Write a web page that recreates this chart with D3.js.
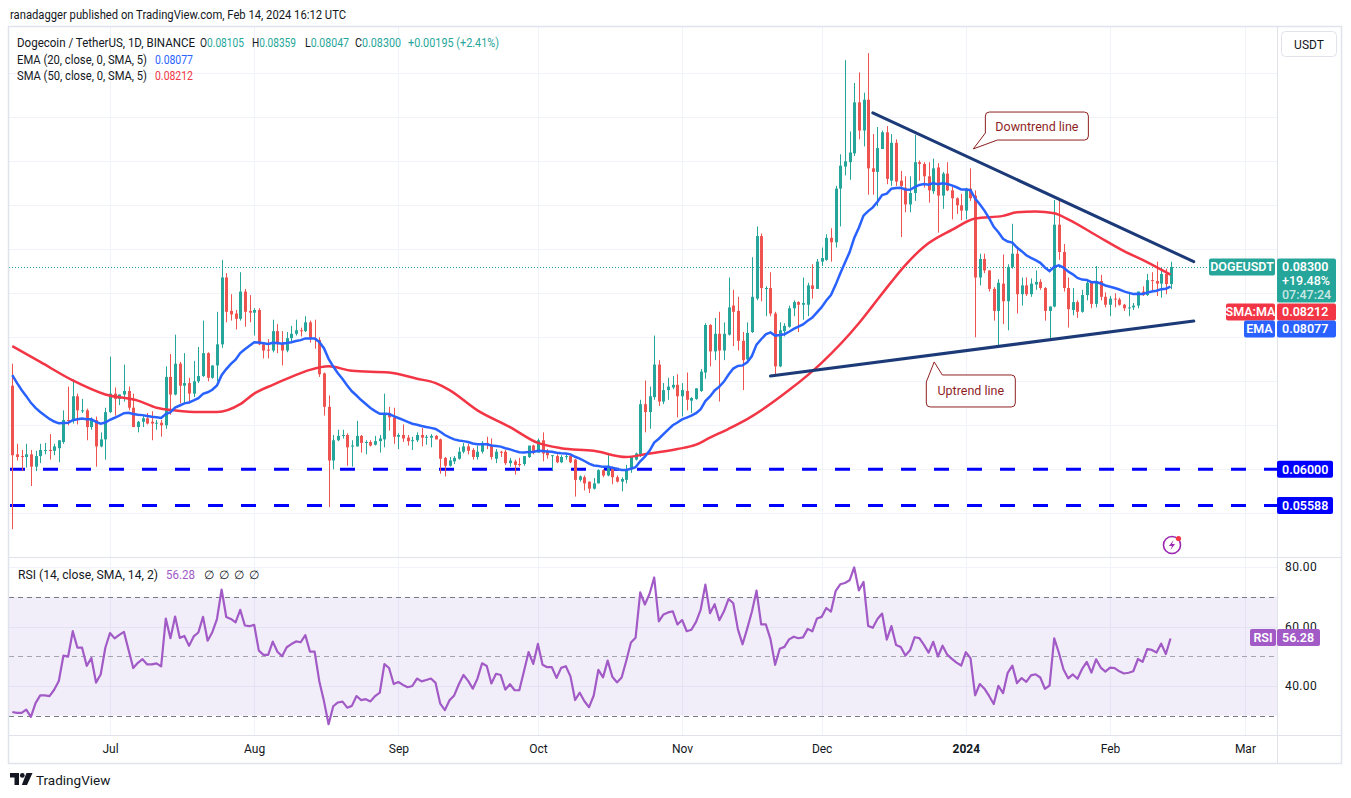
<!DOCTYPE html>
<html>
<head>
<meta charset="utf-8">
<script src="https://cdn.jsdelivr.net/npm/d3@7"></script>
<style>
  body { margin: 0; background: #ffffff; }
  svg text { font-family: Roboto, "Noto Sans", sans-serif; }
</style>
</head>
<body>
<svg id="chart" width="1351" height="798"></svg>
<script>
// ---- data (DOGE/USDT daily, 2023-06-10 .. 2024-02-14) ----
var firstDay = new Date(Date.UTC(2023, 5, 10));

var open = [
0.0695,0.0617,0.0615,0.0614,0.0617,0.0603,0.0615,0.0621,0.0622,0.0621,
0.0624,0.0631,0.0656,0.0655,0.0683,0.0666,0.0667,0.0648,0.0656,0.0626,
0.0634,0.0665,0.0686,0.0680,0.0685,0.0689,0.0670,0.0648,0.0654,0.0658,
0.0654,0.0652,0.0653,0.0650,0.0705,0.0685,0.0720,0.0695,0.0698,0.0686,
0.0700,0.0706,0.0732,0.0704,0.0718,0.0742,0.0818,0.0780,0.0777,0.0771,
0.0802,0.0780,0.0778,0.0781,0.0742,0.0736,0.0735,0.0757,0.0742,0.0735,
0.0749,0.0754,0.0758,0.0757,0.0767,0.0749,0.0747,0.0709,0.0671,0.0610,
0.0633,0.0638,0.0639,0.0626,0.0626,0.0638,0.0630,0.0631,0.0628,0.0632,
0.0634,0.0664,0.0659,0.0637,0.0639,0.0636,0.0632,0.0633,0.0639,0.0636,
0.0636,0.0638,0.0634,0.0613,0.0604,0.0609,0.0612,0.0620,0.0626,0.0622,
0.0614,0.0620,0.0630,0.0628,0.0612,0.0620,0.0620,0.0607,0.0609,0.0606,
0.0606,0.0614,0.0627,0.0619,0.0633,0.0621,0.0615,0.0615,0.0608,0.0614,
0.0615,0.0611,0.0588,0.0591,0.0586,0.0578,0.0584,0.0599,0.0593,0.0601,
0.0591,0.0586,0.0588,0.0600,0.0611,0.0615,0.0674,0.0665,0.0682,0.0719,
0.0677,0.0690,0.0693,0.0696,0.0683,0.0689,0.0678,0.0680,0.0689,0.0710,
0.0764,0.0734,0.0754,0.0735,0.0753,0.0786,0.0780,0.0746,0.0725,0.0756,
0.0794,0.0865,0.0805,0.0806,0.0777,0.0717,0.0757,0.0762,0.0783,0.0790,
0.0787,0.0787,0.0809,0.0805,0.0836,0.0838,0.0863,0.0858,0.0919,0.0944,
0.0949,0.0959,0.1017,0.0985,0.1020,0.0942,0.0938,0.0964,0.0983,0.0928,
0.0971,0.0928,0.0920,0.0901,0.0914,0.0949,0.0947,0.0933,0.0916,0.0943,
0.0911,0.0936,0.0917,0.0908,0.0900,0.0894,0.0919,0.0911,0.0818,0.0839,
0.0826,0.0805,0.0780,0.0811,0.0791,0.0830,0.0845,0.0799,0.0809,0.0799,
0.0810,0.0813,0.0806,0.0780,0.0785,0.0878,0.0847,0.0806,0.0781,0.0790,
0.0779,0.0798,0.0812,0.0788,0.0814,0.0796,0.0787,0.0794,0.0793,0.0787,
0.0783,0.0784,0.0786,0.0802,0.0798,0.0815,0.0814,0.0811,0.0822,0.08105
];

var high = [
0.0720,0.0629,0.0622,0.0629,0.0622,0.0621,0.0629,0.0630,0.0640,0.0629,
0.0633,0.0667,0.0694,0.0702,0.0686,0.0680,0.0669,0.0659,0.0660,0.0642,
0.0670,0.0728,0.0693,0.0685,0.0719,0.0694,0.0686,0.0655,0.0661,0.0664,
0.0666,0.0656,0.0656,0.0717,0.0731,0.0753,0.0722,0.0732,0.0704,0.0723,
0.0739,0.0769,0.0733,0.0718,0.0779,0.0838,0.0823,0.0799,0.0781,0.0824,
0.0805,0.0798,0.0783,0.0783,0.0743,0.0748,0.0770,0.0765,0.0757,0.0756,
0.0763,0.0770,0.0761,0.0774,0.0769,0.0770,0.0750,0.0710,0.0684,0.0639,
0.0645,0.0645,0.0641,0.0633,0.0655,0.0639,0.0633,0.0633,0.0638,0.0639,
0.0686,0.0671,0.0670,0.0641,0.0651,0.0639,0.0637,0.0642,0.0647,0.0639,
0.0640,0.0639,0.0635,0.0614,0.0614,0.0615,0.0625,0.0630,0.0629,0.0624,
0.0627,0.0632,0.0637,0.0635,0.0623,0.0621,0.0622,0.0613,0.0611,0.0613,
0.0615,0.0626,0.0628,0.0635,0.0642,0.0623,0.0616,0.0617,0.0616,0.0617,
0.0617,0.0612,0.0593,0.0593,0.0586,0.0590,0.0600,0.0600,0.0618,0.0603,
0.0593,0.0591,0.0605,0.0615,0.0619,0.0679,0.0701,0.0694,0.0752,0.0724,
0.0698,0.0704,0.0706,0.0708,0.0698,0.0710,0.0682,0.0692,0.0714,0.0766,
0.0765,0.0772,0.0779,0.0767,0.0818,0.0804,0.0796,0.0756,0.0767,0.0841,
0.0876,0.0868,0.0808,0.0824,0.0779,0.0767,0.0766,0.0786,0.0792,0.0791,
0.0818,0.0812,0.0833,0.0839,0.0852,0.0867,0.0874,0.0922,0.0958,0.1065,
0.0984,0.1039,0.1051,0.1028,0.1073,0.0981,0.0989,0.0985,0.0990,0.0981,
0.0975,0.0939,0.0933,0.0933,0.0980,0.0951,0.0949,0.0949,0.0953,0.0948,
0.0938,0.0949,0.0921,0.0909,0.0913,0.0920,0.0942,0.0917,0.0845,0.0845,
0.0826,0.0807,0.0816,0.0844,0.0833,0.0879,0.0853,0.0818,0.0818,0.0817,
0.0826,0.0816,0.0807,0.0785,0.0906,0.0905,0.0856,0.0818,0.0806,0.0792,
0.0804,0.0814,0.0814,0.0831,0.0821,0.0801,0.0797,0.0800,0.0795,0.0788,
0.0802,0.0789,0.0802,0.0808,0.0822,0.0824,0.0836,0.0829,0.0828,0.08359
];

var low = [
0.0532,0.0610,0.0598,0.0602,0.0581,0.0598,0.0607,0.0617,0.0611,0.0616,
0.0608,0.0629,0.0650,0.0652,0.0651,0.0664,0.0633,0.0645,0.0603,0.0625,
0.0611,0.0664,0.0661,0.0673,0.0677,0.0667,0.0648,0.0642,0.0648,0.0651,
0.0633,0.0645,0.0637,0.0646,0.0662,0.0684,0.0675,0.0675,0.0675,0.0682,
0.0698,0.0705,0.0700,0.0703,0.0700,0.0738,0.0767,0.0769,0.0759,0.0769,
0.0762,0.0767,0.0752,0.0741,0.0726,0.0726,0.0733,0.0732,0.0718,0.0733,
0.0745,0.0752,0.0751,0.0756,0.0744,0.0737,0.0705,0.0661,0.0557,0.0600,
0.0632,0.0635,0.0604,0.0603,0.0626,0.0619,0.0617,0.0626,0.0627,0.0619,
0.0625,0.0644,0.0629,0.0623,0.0631,0.0627,0.0622,0.0631,0.0626,0.0628,
0.0625,0.0634,0.0595,0.0592,0.0603,0.0606,0.0611,0.0618,0.0617,0.0611,
0.0611,0.0618,0.0623,0.0611,0.0607,0.0614,0.0605,0.0603,0.0594,0.0603,
0.0604,0.0613,0.0617,0.0619,0.0609,0.0612,0.0599,0.0607,0.0607,0.0611,
0.0607,0.0569,0.0586,0.0576,0.0573,0.0577,0.0584,0.0591,0.0592,0.0583,
0.0585,0.0575,0.0584,0.0596,0.0610,0.0614,0.0642,0.0646,0.0679,0.0672,
0.0674,0.0679,0.0691,0.0659,0.0660,0.0667,0.0664,0.0679,0.0688,0.0703,
0.0717,0.0724,0.0677,0.0724,0.0752,0.0740,0.0735,0.0690,0.0723,0.0755,
0.0792,0.0791,0.0774,0.0774,0.0707,0.0716,0.0751,0.0761,0.0774,0.0756,
0.0770,0.0774,0.0794,0.0805,0.0831,0.0837,0.0836,0.0852,0.0876,0.0934,
0.0929,0.0956,0.0975,0.0967,0.0912,0.0912,0.0899,0.0964,0.0924,0.0922,
0.0922,0.0864,0.0892,0.0892,0.0905,0.0928,0.0920,0.0903,0.0913,0.0869,
0.0896,0.0916,0.0884,0.0890,0.0883,0.0884,0.0905,0.0750,0.0809,0.0823,
0.0802,0.0769,0.0741,0.0765,0.0758,0.0828,0.0777,0.0786,0.0797,0.0796,
0.0804,0.0804,0.0769,0.0749,0.0784,0.0838,0.0802,0.0761,0.0775,0.0772,
0.0778,0.0792,0.0783,0.0784,0.0792,0.0784,0.0774,0.0784,0.0786,0.0780,
0.0774,0.0781,0.0783,0.0797,0.0797,0.0802,0.0797,0.0795,0.0799,0.08047
];

var close = [
0.0616,0.0614,0.0614,0.0617,0.0603,0.0615,0.0622,0.0622,0.0621,0.0626,
0.0633,0.0656,0.0655,0.0683,0.0667,0.0667,0.0648,0.0656,0.0626,0.0634,
0.0665,0.0686,0.0680,0.0685,0.0689,0.0670,0.0648,0.0654,0.0658,0.0652,
0.0652,0.0653,0.0650,0.0705,0.0685,0.0720,0.0695,0.0698,0.0686,0.0700,
0.0706,0.0732,0.0704,0.0718,0.0742,0.0818,0.0779,0.0776,0.0771,0.0802,
0.0779,0.0778,0.0781,0.0742,0.0735,0.0735,0.0757,0.0742,0.0735,0.0749,
0.0754,0.0758,0.0757,0.0767,0.0748,0.0748,0.0708,0.0671,0.0610,0.0633,
0.0638,0.0639,0.0625,0.0627,0.0638,0.0630,0.0631,0.0627,0.0632,0.0635,
0.0664,0.0659,0.0637,0.0639,0.0635,0.0632,0.0633,0.0639,0.0636,0.0637,
0.0638,0.0634,0.0612,0.0604,0.0610,0.0613,0.0620,0.0626,0.0621,0.0614,
0.0620,0.0630,0.0628,0.0614,0.0620,0.0619,0.0607,0.0610,0.0605,0.0605,
0.0615,0.0627,0.0619,0.0633,0.0618,0.0616,0.0616,0.0608,0.0614,0.0615,
0.0608,0.0588,0.0592,0.0584,0.0578,0.0584,0.0599,0.0593,0.0604,0.0591,
0.0586,0.0589,0.0600,0.0614,0.0618,0.0674,0.0665,0.0683,0.0719,0.0677,
0.0690,0.0694,0.0696,0.0683,0.0690,0.0679,0.0681,0.0692,0.0711,0.0764,
0.0734,0.0754,0.0735,0.0754,0.0784,0.0779,0.0746,0.0724,0.0755,0.0796,
0.0865,0.0806,0.0806,0.0777,0.0717,0.0758,0.0763,0.0783,0.0790,0.0787,
0.0789,0.0809,0.0805,0.0836,0.0840,0.0863,0.0858,0.0919,0.0945,0.0950,
0.0960,0.1017,0.0985,0.1020,0.0942,0.0938,0.0965,0.0983,0.0930,0.0971,
0.0927,0.0922,0.0901,0.0914,0.0949,0.0947,0.0933,0.0917,0.0942,0.0911,
0.0936,0.0917,0.0908,0.0900,0.0894,0.0919,0.0908,0.0818,0.0839,0.0826,
0.0805,0.0780,0.0812,0.0791,0.0830,0.0845,0.0799,0.0809,0.0799,0.0811,
0.0813,0.0806,0.0780,0.0785,0.0878,0.0847,0.0806,0.0782,0.0790,0.0779,
0.0798,0.0812,0.0788,0.0814,0.0796,0.0787,0.0794,0.0793,0.0787,0.0783,
0.0784,0.0786,0.0802,0.0798,0.0815,0.0814,0.0811,0.0822,0.08105,0.0830
];

// SMA(50) (day index, value)
var smaIdx = [0,6,13,20,27,31,35,40,44,49,52,56,60,64,68,73,81,87,91,94,100,107,113,118,125,
              132,136,143,147,150,154,158,167,174,182,185,189,192,196,202,207,213,216,220,224,
              227,233,239,243,247,249];
var smaVal = [0.0740,0.0722,0.0701,0.0685,0.0678,0.0670,0.0667,0.0665,0.0665,0.0674,0.0686,
              0.0696,0.0705,0.0713,0.0717,0.0712,0.0710,0.0703,0.0698,0.0690,0.0667,0.0648,
              0.0630,0.0624,0.0621,0.0614,0.0617,0.0623,0.0628,0.0636,0.0646,0.0657,0.0690,
              0.0721,0.0766,0.0786,0.0813,0.0832,0.0853,0.0872,0.0885,0.0888,0.0892,0.0893,
              0.0891,0.0884,0.0866,0.0848,0.0838,0.0827,0.08212];

// EMA(20) value on the first bar, RSI averages on the first bar
var emaStart = 0.0707;
var rsiGainStart = 0.00050, rsiLossStart = 0.00110;

var priceTicks = [0.050,0.055,0.060,0.065,0.070,0.075,0.080,0.085,0.090,0.095,0.100,0.105];
var hiddenTicks = [0.060, 0.080];   // covered by price tags on the axis
var rsiTicks = [40, 60, 80];
var monthTicks = [[2023,6,"Jul"],[2023,7,"Aug"],[2023,8,"Sep"],[2023,9,"Oct"],[2023,10,"Nov"],
                  [2023,11,"Dec"],[2024,0,"2024"],[2024,1,"Feb"],[2024,2,"Mar"]];
var supportLevels = [0.06000, 0.05588];

// trend lines: [day index, price]
var downTrend = [[185, 0.1005], [254, 0.0836]];
var upTrend = [[163, 0.0706], [254, 0.07685]];

// callouts: box anchor [day index, price], tail tip [day index, price]
var callouts = [
  {text: "Downtrend line", box: [209.2, 0.1006], w: 103, h: 28, tip: [206.6, 0.09641], side: "bottom"},
  {text: "Uptrend line",   box: [196.5, 0.07072], w: 89, h: 32, tip: [198.2, 0.07220], side: "top"}
];

// ---- derived series ----
var days = close.map(function(c, i) { return d3.utcDay.offset(firstDay, i); });

var ema = [];
close.forEach(function(c, i) {
  ema.push(i === 0 ? emaStart : ema[i-1] + (c - ema[i-1]) * 2 / 21);
});

var ag = rsiGainStart, al = rsiLossStart;
var rsi = close.map(function(c, i) {
  if (i > 0) {
    var ch = c - close[i-1];
    ag = (ag * 13 + Math.max(ch, 0)) / 14;
    al = (al * 13 + Math.max(-ch, 0)) / 14;
  }
  return 100 - 100 / (1 + ag / al);
});

// ---- layout ----
var paneL = 9, paneR = 1277, frameR = 1341;
var priceTop = 27, priceBot = 557, rsiBot = 735, frameB = 763;

var green = "#26a69a", red = "#ef5350", blue = "#2962ff", smaRed = "#f23645", purple = "#a15ac6";
var textCol = "#131722", gridCol = "#f0f3fa", sepCol = "#e0e3eb";

var x = d3.scaleUtc().domain([firstDay, days[days.length-1]]).range([12.3, 1170.5]);
var y = d3.scaleLinear().domain([0.05, 0.11015]).range([557.3, 28]);
var yr = d3.scaleLinear().domain([30, 70]).range([715.75, 596.75]);
var xAt = function(k) { return x(new Date(firstDay.getTime() + k * 86400000)); };

var svg = d3.select("#chart");

var defs = svg.append("defs");
defs.append("clipPath").attr("id", "clipPrice").append("rect")
  .attr("x", paneL).attr("y", priceTop).attr("width", paneR - paneL).attr("height", priceBot - priceTop);
defs.append("clipPath").attr("id", "clipRsi").append("rect")
  .attr("x", paneL).attr("y", priceBot).attr("width", paneR - paneL).attr("height", rsiBot - priceBot);
defs.append("clipPath").attr("id", "clipAxis").append("rect")
  .attr("x", paneR).attr("y", priceTop).attr("width", frameR - paneR).attr("height", priceBot - priceTop);

// attribution
svg.append("text").attr("x", 10).attr("y", 19).attr("font-size", "12px").attr("fill", textCol)
  .attr("textLength", 336).attr("lengthAdjust", "spacingAndGlyphs")
  .text("ranadagger published on TradingView.com, Feb 14, 2024 16:12 UTC");

// ---- grid ----
var grid = svg.append("g");
grid.selectAll(".hgrid").data(priceTicks).enter().append("line")
  .attr("x1", paneL).attr("x2", paneR)
  .attr("y1", function(d) { return Math.round(y(d)) + 0.5; })
  .attr("y2", function(d) { return Math.round(y(d)) + 0.5; })
  .attr("stroke", gridCol).attr("clip-path", "url(#clipPrice)");
grid.selectAll(".rgrid").data(rsiTicks).enter().append("line")
  .attr("x1", paneL).attr("x2", paneR)
  .attr("y1", function(d) { return Math.round(yr(d)) + 0.5; })
  .attr("y2", function(d) { return Math.round(yr(d)) + 0.5; })
  .attr("stroke", gridCol);
grid.selectAll(".vgrid").data(monthTicks).enter().append("line")
  .attr("x1", function(d) { return Math.round(x(new Date(Date.UTC(d[0], d[1], 1)))) + 0.5; })
  .attr("x2", function(d) { return Math.round(x(new Date(Date.UTC(d[0], d[1], 1)))) + 0.5; })
  .attr("y1", priceTop).attr("y2", rsiBot)
  .attr("stroke", gridCol);

// ---- price pane ----
var pane = svg.append("g").attr("clip-path", "url(#clipPrice)");

// support levels
pane.selectAll(".support").data(supportLevels).enter().append("line")
  .attr("x1", 10).attr("x2", paneR)
  .attr("y1", function(d) { return y(d); }).attr("y2", function(d) { return y(d); })
  .attr("stroke", "#0000ff").attr("stroke-width", 3).attr("stroke-dasharray", "15,18");

// last price dotted line
pane.append("line").attr("x1", paneL).attr("x2", 1209)
  .attr("y1", Math.round(y(close[close.length-1])) + 0.5).attr("y2", Math.round(y(close[close.length-1])) + 0.5)
  .attr("stroke", green).attr("stroke-width", 1).attr("stroke-dasharray", "1,2");

// candles
var candle = pane.append("g").selectAll("g").data(close).enter().append("g");
candle.append("line")
  .attr("x1", function(d, i) { return Math.round(x(days[i])) + 0.5; })
  .attr("x2", function(d, i) { return Math.round(x(days[i])) + 0.5; })
  .attr("y1", function(d, i) { return y(high[i]); })
  .attr("y2", function(d, i) { return y(low[i]); })
  .attr("stroke", function(d, i) { return close[i] >= open[i] ? green : red; })
  .attr("stroke-width", 1);
candle.append("rect")
  .attr("x", function(d, i) { return Math.round(x(days[i])) - 1; })
  .attr("width", 3)
  .attr("y", function(d, i) { return y(Math.max(open[i], close[i])); })
  .attr("height", function(d, i) { return Math.max(1, Math.abs(y(open[i]) - y(close[i]))); })
  .attr("fill", function(d, i) { return close[i] >= open[i] ? green : red; });

// moving averages
pane.append("path")
  .datum(smaIdx.map(function(k, j) { return [days[k], smaVal[j]]; }))
  .attr("d", d3.line().curve(d3.curveMonotoneX)
    .x(function(d) { return x(d[0]); }).y(function(d) { return y(d[1]); }))
  .attr("fill", "none").attr("stroke", smaRed).attr("stroke-width", 2.5);
pane.append("path")
  .datum(ema.map(function(v, i) { return [days[i], v]; }))
  .attr("d", d3.line().x(function(d) { return x(d[0]); }).y(function(d) { return y(d[1]); }))
  .attr("fill", "none").attr("stroke", blue).attr("stroke-width", 2.5);

// trend lines
[downTrend, upTrend].forEach(function(t) {
  pane.append("line")
    .attr("x1", xAt(t[0][0])).attr("y1", y(t[0][1]))
    .attr("x2", xAt(t[1][0])).attr("y2", y(t[1][1]))
    .attr("stroke", "#1c3a78").attr("stroke-width", 3).attr("stroke-linecap", "round");
});

// callouts
callouts.forEach(function(c) {
  var bx = xAt(c.box[0]), by = y(c.box[1]), w = c.w, h = c.h, r = 4;
  var tx = xAt(c.tip[0]), ty = y(c.tip[1]);
  var p = d3.path();
  if (c.side === "bottom") {
    p.moveTo(bx + r, by);
    p.lineTo(bx + w - r, by); p.arcTo(bx + w, by, bx + w, by + r, r);
    p.lineTo(bx + w, by + h - r); p.arcTo(bx + w, by + h, bx + w - r, by + h, r);
    p.lineTo(bx + 12, by + h); p.lineTo(tx, ty); p.lineTo(bx, by + h - 7);
    p.lineTo(bx, by + r); p.arcTo(bx, by, bx + r, by, r);
  } else {
    p.moveTo(bx + 16, by);
    p.lineTo(bx + w - r, by); p.arcTo(bx + w, by, bx + w, by + r, r);
    p.lineTo(bx + w, by + h - r); p.arcTo(bx + w, by + h, bx + w - r, by + h, r);
    p.lineTo(bx + r, by + h); p.arcTo(bx, by + h, bx, by + h - r, r);
    p.lineTo(bx, by + 7); p.lineTo(tx, ty); p.lineTo(bx + 16, by);
  }
  p.closePath();
  pane.append("path").attr("d", p.toString())
    .attr("fill", "#ffffff").attr("stroke", "#8e1f1f").attr("stroke-width", 1);
  pane.append("text").attr("x", bx + w / 2).attr("y", by + h / 2 + 4.5)
    .attr("text-anchor", "middle").attr("font-size", "12.5px").attr("fill", "#8e1f1f")
    .text(c.text);
});

// ---- RSI pane ----
var rp = svg.append("g").attr("clip-path", "url(#clipRsi)");
rp.append("rect").attr("x", paneL).attr("width", paneR - paneL)
  .attr("y", yr(70)).attr("height", yr(30) - yr(70)).attr("fill", "rgba(126,87,194,0.1)");
[[70, "#787b86"], [50, "#a3a6af"], [30, "#787b86"]].forEach(function(l) {
  rp.append("line").attr("x1", paneL).attr("x2", paneR)
    .attr("y1", Math.round(yr(l[0])) + 0.5).attr("y2", Math.round(yr(l[0])) + 0.5)
    .attr("stroke", l[1]).attr("stroke-dasharray", "5,4");
});
rp.append("path")
  .datum(rsi.map(function(v, i) { return [days[i], v]; }))
  .attr("d", d3.line().x(function(d) { return x(d[0]); }).y(function(d) { return yr(d[1]); }))
  .attr("fill", "none").attr("stroke", purple).attr("stroke-width", 2.2).attr("stroke-linejoin", "round");

// ---- frame and separators ----
var frame = svg.append("g").attr("stroke", sepCol).attr("fill", "none");
frame.append("rect").attr("x", paneL - 0.5).attr("y", priceTop - 0.5)
  .attr("width", frameR - paneL + 1).attr("height", frameB - priceTop + 1).attr("stroke-width", 1.5);
frame.append("line").attr("x1", paneR + 0.5).attr("x2", paneR + 0.5).attr("y1", priceTop).attr("y2", frameB);
frame.append("line").attr("x1", paneL).attr("x2", frameR).attr("y1", priceBot + 0.5).attr("y2", priceBot + 0.5);
frame.append("line").attr("x1", paneL).attr("x2", frameR).attr("y1", rsiBot + 0.5).attr("y2", rsiBot + 0.5);

// ---- axes ----
var priceAxis = svg.append("g").attr("transform", "translate(" + paneR + ",0)")
  .attr("clip-path", "url(#clipAxis)")
  .call(d3.axisRight(y)
    .tickValues(priceTicks.filter(function(t) { return hiddenTicks.indexOf(t) < 0; }))
    .tickFormat(d3.format(".5f")).tickSize(0).tickPadding(8));
var rsiAxis = svg.append("g").attr("transform", "translate(" + paneR + ",0)")
  .call(d3.axisRight(yr).tickValues(rsiTicks).tickFormat(d3.format(".2f")).tickSize(0).tickPadding(8));
var timeAxis = svg.append("g").attr("transform", "translate(0," + rsiBot + ")")
  .call(d3.axisBottom(x)
    .tickValues(monthTicks.map(function(d) { return new Date(Date.UTC(d[0], d[1], 1)); }))
    .tickFormat(function(d, i) { return monthTicks[i][2]; })
    .tickSize(0).tickPadding(9));
[priceAxis, rsiAxis, timeAxis].forEach(function(a) {
  a.select(".domain").remove();
  a.selectAll("text").attr("fill", textCol).attr("font-size", "12px")
    .attr("font-family", "Roboto, 'Noto Sans', sans-serif");
});
priceAxis.selectAll("text").attr("letter-spacing", "0.4px");
rsiAxis.selectAll("text").attr("letter-spacing", "0.4px");
timeAxis.selectAll("text").filter(function(d, i) { return monthTicks[i][2] === "2024"; })
  .attr("font-weight", "bold");

// USDT button
svg.append("rect").attr("x", 1281.5).attr("y", 31.5).attr("width", 55).attr("height", 25).attr("rx", 4)
  .attr("fill", "#fff").attr("stroke", sepCol);
svg.append("text").attr("x", 1309).attr("y", 48.5).attr("text-anchor", "middle")
  .attr("font-size", "12px").attr("fill", textCol).text("USDT");

// ---- axis tags ----
function tag(xl, top, w, h, fill, lines, anchor) {
  svg.append("rect").attr("x", xl).attr("y", top).attr("width", w).attr("height", h)
    .attr("rx", 2).attr("fill", fill);
  lines.forEach(function(l, j) {
    svg.append("text").attr("x", anchor === "middle" ? xl + w / 2 : xl + 5)
      .attr("y", top + 12.8 + j * 14)
      .attr("text-anchor", anchor === "middle" ? "middle" : "start")
      .attr("font-size", "12.5px").attr("font-weight", j === 0 ? "600" : "500")
      .attr("fill", "#ffffff").attr("fill-opacity", j === 2 ? 0.75 : 1)
      .text(l);
  });
}
supportLevels.forEach(function(s) {
  tag(paneR, y(s) - 8.5, 56, 17, "#0000ff", [d3.format(".5f")(s)]);
});
var lastTop = y(close[close.length-1]) - 8.5;
tag(1209, lastTop, 66, 17, green, ["DOGEUSDT"], "middle");
tag(paneR, lastTop, 59, 44, green, [d3.format(".5f")(close[close.length-1]), "+19.48%", "07:47:24"]);
tag(1226, lastTop + 45, 49, 17, smaRed, ["SMA:MA"], "middle");
tag(paneR, lastTop + 45, 59, 17, smaRed, [d3.format(".5f")(smaVal[smaVal.length-1])]);
tag(1244, lastTop + 62, 31, 17, blue, ["EMA"], "middle");
tag(paneR, lastTop + 62, 59, 17, blue, ["0.08077"]);
tag(1250, yr(56.28) - 8.5, 26, 17, purple, ["RSI"], "middle");
tag(paneR, yr(56.28) - 8.5, 43, 17, purple, ["56.28"]);

// ---- legends (widths fitted to the original layout) ----
function legend(xp, yp, width, parts) {
  var t = svg.append("text").attr("x", xp).attr("y", yp).attr("font-size", "12px");
  if (width) t.attr("textLength", width).attr("lengthAdjust", "spacingAndGlyphs");
  parts.forEach(function(p) { t.append("tspan").attr("fill", p[1]).text(p[0]); });
}
legend(17, 47, 178, [["Dogecoin / TetherUS, 1D, BINANCE", textCol]]);
legend(200, 47, 44, [["O", textCol], ["0.08105", green]]);
legend(252, 47, 44, [["H", textCol], ["0.08359", green]]);
legend(305, 47, 44, [["L", textCol], ["0.08047", green]]);
legend(355, 47, 46, [["C", textCol], ["0.08300", green]]);
legend(408, 47, 91, [["+0.00195 (+2.41%)", green]]);
legend(17, 63.5, 130, [["EMA (20, close, 0, SMA, 5)", textCol]]);
legend(155, 63.5, 38, [["0.08077", blue]]);
legend(17, 80, 130, [["SMA (50, close, 0, SMA, 5)", textCol]]);
legend(155, 80, 38, [["0.08212", smaRed]]);
legend(18, 579, 140, [["RSI (14, close, SMA, 14, 2)", textCol]]);
legend(166, 579, 29, [["56.28", purple]]);
[204, 219, 234, 249].forEach(function(xp) { legend(xp, 579, 0, [["\u2205", textCol]]); });

// ---- lightning icon ----
var ic = svg.append("g").attr("transform", "translate(1172,545)");
ic.append("circle").attr("r", 8.5).attr("fill", "#fff").attr("stroke", "#9c27b0").attr("stroke-width", 1.6);
ic.append("path").attr("d", "M1.5,-5 L-3,1 L0,1 L-1.5,5 L3,-1 L0,-1 Z").attr("fill", "#9c27b0");
ic.append("circle").attr("cx", 6.5).attr("cy", -6.5).attr("r", 2.6).attr("fill", "#f23645");

// ---- TradingView logo ----
var logo = svg.append("g").attr("fill", textCol);
logo.append("path").attr("d", "M10,773 h9 v12 h-4.5 v-7.5 h-4.5 z");
logo.append("circle").attr("cx", 22.3).attr("cy", 775.4).attr("r", 2.4);
logo.append("path").attr("d", "M26.5,773 h6 l-5.5,12 h-5.2 z");
svg.append("text").attr("x", 36).attr("y", 784.5).attr("font-size", "13.5px").attr("fill", textCol)
  .text("TradingView");
</script>
</body>
</html>
